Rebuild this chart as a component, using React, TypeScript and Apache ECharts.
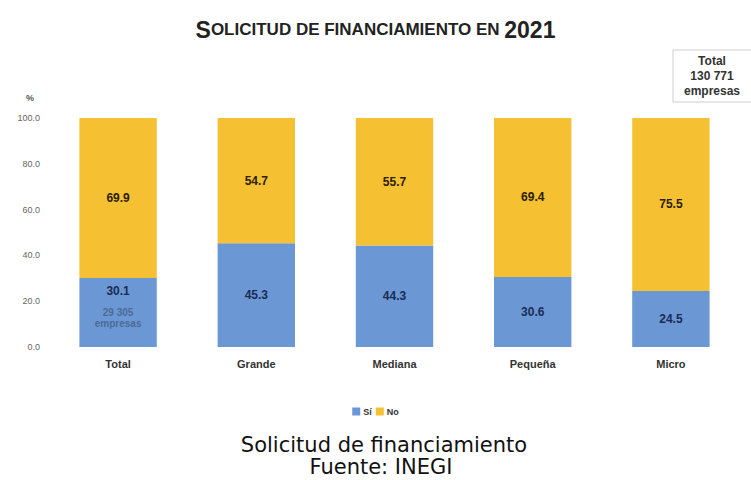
import React, { useEffect, useRef } from "react";
import * as echarts from "echarts";

const categories = ["Total", "Grande", "Mediana", "Pequeña", "Micro"];
const siValues = [30.1, 45.3, 44.3, 30.6, 24.5];
const noValues = [69.9, 54.7, 55.7, 69.4, 75.5];
const yTicks = { min: 0, max: 100, interval: 20 };
const totalEmpresasSi = "29 305";
const totalEmpresas = "130 771";

export default function App() {
  const ref = useRef<HTMLDivElement>(null);
  useEffect(() => {
    if (!ref.current) return;
    const chart = echarts.init(ref.current, null, { renderer: "svg" });
    const blue = "#6b98d4";
    const yellow = "#f6c033";
    const siData = siValues.map((v, i) =>
      i === 0
        ? {
            value: v,
            label: {
              position: "insideTop",
              distance: 5,
              formatter: `{a|${v.toFixed(1)}}\n{b|${totalEmpresasSi}}\n{c|empresas}`,
              rich: {
                a: { fontSize: 12, fontWeight: "bold", color: "#1b2b55", lineHeight: 16, fontFamily: "Liberation Sans" },
                b: { fontSize: 10, color: "#4d6b94", lineHeight: 18, padding: [8, 0, 0, 0], fontFamily: "Liberation Sans" },
                c: { fontSize: 10, color: "#4d6b94", lineHeight: 13, fontFamily: "Liberation Sans" },
              },
            },
          }
        : v
    );
    const option: any = {
      animation: false,
      title: {
        text: "{b|S}{s|OLICITUD DE FINANCIAMIENTO EN }{b|2021}",
        left: "center",
        top: 13,
        textStyle: {
          rich: {
            b: { fontSize: 23, fontWeight: "bold", color: "#222", fontFamily: "Liberation Sans" },
            s: { fontSize: 17, fontWeight: "bold", color: "#222", fontFamily: "Liberation Sans" },
          },
        },
      },
      grid: { left: 49, right: 11, top: 118, bottom: 133 },
      legend: {
        data: ["Sí", "No"],
        top: 402,
        left: "center",
        itemWidth: 8,
        itemHeight: 8,
        itemGap: 4,
        icon: "rect",
        textStyle: { fontSize: 9, fontWeight: "bold", color: "#333", fontFamily: "Liberation Sans", padding: [0, 0, 0, -2] },
      },
      xAxis: {
        type: "category",
        data: categories,
        axisLine: { show: false },
        axisTick: { show: false },
        axisLabel: { fontSize: 11, fontWeight: "bold", color: "#333", margin: 11, fontFamily: "Liberation Sans" },
      },
      yAxis: {
        type: "value",
        min: yTicks.min,
        max: yTicks.max,
        interval: yTicks.interval,
        splitLine: { show: false },
        axisLine: { show: false },
        axisTick: { show: false },
        axisLabel: {
          fontSize: 9,
          color: "#666",
          margin: 9,
          fontFamily: "Liberation Sans",
          formatter: (v: number) => v.toFixed(1),
        },
      },
      series: [
        {
          name: "Sí",
          type: "bar",
          stack: "a",
          barWidth: "56%",
          itemStyle: { color: blue },
          label: {
            show: true,
            position: "inside",
            fontSize: 12,
            fontWeight: "bold",
            color: "#1b2b55",
            fontFamily: "Liberation Sans",
            formatter: (p: any) => Number(p.value).toFixed(1),
          },
          data: siData,
        },
        {
          name: "No",
          type: "bar",
          stack: "a",
          barWidth: "56%",
          itemStyle: { color: yellow },
          label: {
            show: true,
            position: "inside",
            fontSize: 12,
            fontWeight: "bold",
            color: "#2a2000",
            fontFamily: "Liberation Sans",
            formatter: (p: any) => Number(p.value).toFixed(1),
          },
          data: noValues,
        },
      ],
      graphic: [
        {
          type: "text",
          left: 26,
          top: 93,
          style: { text: "%", fontSize: 9, fontWeight: "bold", fill: "#555", fontFamily: "Liberation Sans" },
        },
        {
          type: "rect",
          shape: { x: 673, y: 50, width: 85, height: 52 },
          style: { fill: "#fff", stroke: "#cfcfcf", lineWidth: 1 },
        },
        {
          type: "text",
          x: 712,
          y: 76,
          style: {
            text: `Total\n${totalEmpresas}\nempresas`,
            fontSize: 12,
            fontWeight: "bold",
            lineHeight: 15,
            fill: "#333",
            align: "center",
            verticalAlign: "middle",
            fontFamily: "Liberation Sans",
          },
        },
        {
          type: "text",
          x: 384,
          y: 445,
          style: {
            text: "Solicitud de financiamiento",
            fontSize: 21,
            fill: "#111",
            align: "center",
            verticalAlign: "middle",
            fontFamily: "DejaVu Sans",
          },
        },
        {
          type: "text",
          x: 381,
          y: 467,
          style: {
            text: "Fuente: INEGI",
            fontSize: 21,
            fill: "#111",
            align: "center",
            verticalAlign: "middle",
            fontFamily: "DejaVu Sans",
          },
        },
      ],
    };
    chart.setOption(option);
    return () => chart.dispose();
  }, []);
  return (
    <div
      ref={ref}
      style={{ position: "fixed", left: 0, top: 0, width: 751, height: 480, background: "#fff" }}
    />
  );
}
